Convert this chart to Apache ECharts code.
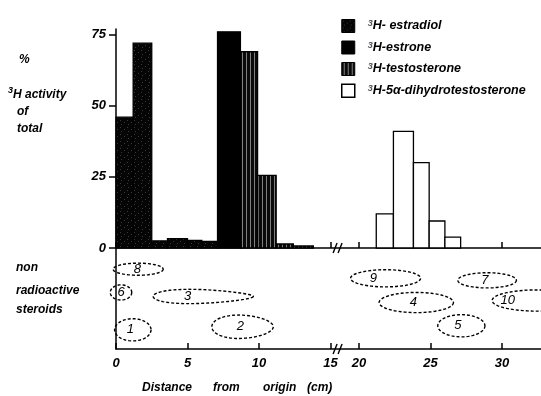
<!DOCTYPE html>
<html>
<head>
<meta charset="utf-8">
<script src="https://cdn.jsdelivr.net/npm/echarts@6/dist/echarts.min.js"></script>
<style>
html, body { margin: 0; padding: 0; background: #fff; }
#main { width: 541px; height: 396px; }
</style>
</head>
<body>
<div id="main"></div>
<script>
// histogram bins: edges in cm from origin, values in % of total 3H activity
var estradiolEdges = [0, 1.2, 2.5, 3.6, 5.0, 6.0, 7.1];
var estradiolValues = [46, 72, 2.5, 3.3, 2.7, 2.3];
var estroneEdges = [7.1, 8.7];
var estroneValues = [76];
var testosteroneEdges = [8.7, 9.9, 11.2, 12.4, 13.8];
var testosteroneValues = [69, 25.5, 1.4, 0.7];
var dhtEdges = [21.2, 22.4, 23.8, 24.9, 26.0, 27.1];
var dhtValues = [12, 41, 30, 9.5, 3.8];

// non radioactive reference spots (cm from origin, lane height 0..10)
var spotNames = ['1', '2', '3', '4', '5', '6', '7', '8', '9', '10'];
var spotFrom = [-0.1, 6.7, 2.6, 21.4, 25.5, -0.4, 26.9, -0.2, 19.4, 29.3];
var spotTo = [2.45, 11.0, 9.6, 26.6, 28.8, 1.1, 31.0, 3.3, 24.3, 35.5];
var spotMid = [1.9, 2.2, 5.2, 4.6, 2.3, 5.6, 6.8, 7.9, 7.0, 4.8];
var spotHalf = [1.1, 1.3, 0.9, 1.0, 1.1, 0.75, 0.75, 0.6, 0.85, 1.05];
var spotLabelAt = [1.0, 8.7, 5.0, 23.8, 26.9, 0.35, 28.8, 1.5, 21.0, 30.4];

var xTicks = [0, 5, 10, 15, 20, 25, 30];
var yTicks = [0, 25, 50, 75];

var legendNames = ['estradiol', 'estrone', 'testosterone', '5α-dihydrotestosterone'];
var legendTexts = ['H- estradiol', 'H-estrone', 'H-testosterone', 'H-5α-dihydrotestosterone'];

// axis break: 15..20 cm is drawn as 2 cm
function toAxis(x) { return x <= 15 ? x : x - 3; }
function fromAxis(u) { return u <= 15.01 ? u : u + 3; }

var FONT = '"Liberation Sans", Arial, sans-serif';

function makePattern(w, h, draw) {
	var c = document.createElement('canvas');
	c.width = w; c.height = h;
	draw(c.getContext('2d'));
	return { image: c, repeat: 'repeat' };
}
var speckle = makePattern(7, 7, function (ctx) {
	ctx.fillStyle = '#050505';
	ctx.fillRect(0, 0, 7, 7);
	ctx.fillStyle = '#3a3a3a';
	ctx.fillRect(1, 1, 1, 1);
	ctx.fillRect(5, 3, 1, 1);
	ctx.fillRect(2, 5, 1, 1);
});
var stripes = makePattern(4, 1, function (ctx) {
	ctx.fillStyle = '#0a0a0a';
	ctx.fillRect(0, 0, 4, 1);
	ctx.fillStyle = '#808080';
	ctx.fillRect(2, 0, 1, 1);
});
var fills = { 'estradiol': speckle, 'estrone': '#000', 'testosterone': stripes, '5α-dihydrotestosterone': '#fff' };

function bins(edges, values) {
	var out = [];
	for (var i = 0; i < values.length; i++) {
		out.push([toAxis(edges[i]), toAxis(edges[i + 1]), values[i]]);
	}
	return out;
}

function renderBin(params, api) {
	var lo = api.coord([api.value(0), 0]);
	var hi = api.coord([api.value(1), api.value(2)]);
	return {
		type: 'rect',
		shape: { x: lo[0], y: hi[1], width: hi[0] - lo[0], height: lo[1] - hi[1] },
		style: { fill: fills[params.seriesName], stroke: '#000', lineWidth: 1.3 }
	};
}

function binSeries(name, edges, values) {
	return {
		type: 'custom', name: name, xAxisIndex: 0, yAxisIndex: 0,
		itemStyle: { color: fills[name] },
		encode: { x: [0, 1], y: 2 },
		renderItem: renderBin,
		data: bins(edges, values)
	};
}

// teardrop spots (3 and 2 narrow to the right)
var spotTaper = { '2': 0.35, '3': 0.75 };

function renderSpot(params, api) {
	var i = params.dataIndex;
	var a = api.coord([api.value(0), api.value(2)]);
	var b = api.coord([api.value(1), api.value(2) + api.value(3)]);
	var cx = (a[0] + b[0]) / 2, cy = a[1], rx = (b[0] - a[0]) / 2, ry = a[1] - b[1];
	var taper = spotTaper[spotNames[i]] || 0;
	var pts = [];
	for (var k = 0; k < 60; k++) {
		var t = k / 60 * 2 * Math.PI;
		var c = Math.cos(t);
		pts.push([cx + rx * c, cy + ry * Math.sin(t) * (1 - taper * 0.33 * (1 + c))]);
	}
	var lab = api.coord([api.value(4), api.value(2)]);
	return {
		type: 'group',
		children: [{
			type: 'polygon',
			shape: { points: pts },
			style: { fill: 'none', stroke: '#000', lineWidth: 1.4, lineDash: [3, 2] }
		}, {
			type: 'text',
			x: lab[0], y: lab[1],
			style: {
				text: spotNames[i], fill: '#000', align: 'center', verticalAlign: 'middle',
				fontSize: 13, fontStyle: 'italic', fontFamily: FONT
			}
		}]
	};
}

var spotData = spotNames.map(function (n, i) {
	return [toAxis(spotFrom[i]), toAxis(spotTo[i]), spotMid[i], spotHalf[i], toAxis(spotLabelAt[i])];
});

var xTickAxis = xTicks.map(toAxis);
var axisLineStyle = { color: '#000', width: 1.5 };
var boldItalic = { color: '#000', fontStyle: 'italic', fontWeight: 'bold', fontFamily: FONT, fontSize: 13 };

function label(text, left, top) {
	return {
		type: 'text', left: left, top: top,
		style: { text: text, fill: '#000', fontSize: 12, fontStyle: 'italic', fontWeight: 'bold', fontFamily: FONT }
	};
}

var myChart = echarts.init(document.getElementById('main'));

var option = {
	animation: false,
	grid: [
		{ left: 116, right: 0, top: 29, height: 219 },
		{ left: 116, right: 0, top: 248, height: 101 }
	],
	legend: {
		orient: 'vertical', left: 336, top: 14,
		icon: 'rect', itemWidth: 13, itemHeight: 13, itemGap: 7.5,
		selectedMode: false,
		data: [
			{ name: 'estradiol', itemStyle: { color: speckle, borderColor: '#000', borderWidth: 1 } },
			{ name: 'estrone', itemStyle: { color: '#000', borderColor: '#000', borderWidth: 1 } },
			{ name: 'testosterone', itemStyle: { color: stripes, borderColor: '#000', borderWidth: 1 } },
			{ name: '5α-dihydrotestosterone', itemStyle: { color: '#fff', borderColor: '#000', borderWidth: 1.5 } }
		],
		formatter: function (name) {
			return '{s|3}{t|' + legendTexts[legendNames.indexOf(name)] + '}';
		},
		textStyle: {
			rich: {
				s: { fontSize: 9, fontWeight: 'bold', fontStyle: 'italic', fontFamily: FONT, verticalAlign: 'top', lineHeight: 9, padding: [0, 0, 0, 8] },
				t: { fontSize: 12.5, fontWeight: 'bold', fontStyle: 'italic', fontFamily: FONT, lineHeight: 13, verticalAlign: 'bottom', color: '#000' }
			}
		}
	},
	xAxis: [{
		gridIndex: 0, type: 'value', min: 0, max: 29.72,
		axisLine: { lineStyle: axisLineStyle },
		axisTick: { inside: true, length: 6, customValues: xTickAxis, lineStyle: axisLineStyle },
		axisLabel: { show: false },
		splitLine: { show: false }
	}, {
		gridIndex: 1, type: 'value', min: 0, max: 29.72,
		axisLine: { lineStyle: axisLineStyle },
		axisTick: { inside: true, length: 6, customValues: xTickAxis, lineStyle: axisLineStyle },
		axisLabel: Object.assign({
			customValues: xTickAxis, margin: 8,
			formatter: function (v) { return String(Math.round(fromAxis(v))); }
		}, boldItalic),
		splitLine: { show: false }
	}],
	yAxis: [{
		gridIndex: 0, type: 'value', min: 0, max: 77,
		axisLine: { show: true, lineStyle: axisLineStyle },
		axisTick: { show: true, length: 7, customValues: yTicks, lineStyle: axisLineStyle },
		axisLabel: Object.assign({ customValues: yTicks, margin: 10 }, boldItalic),
		splitLine: { show: false }
	}, {
		gridIndex: 1, type: 'value', min: 0, max: 10,
		axisLine: { show: true, lineStyle: axisLineStyle },
		axisTick: { show: false },
		axisLabel: { show: false },
		splitLine: { show: false }
	}],
	series: [
		binSeries('estradiol', estradiolEdges, estradiolValues),
		binSeries('estrone', estroneEdges, estroneValues),
		binSeries('testosterone', testosteroneEdges, testosteroneValues),
		binSeries('5α-dihydrotestosterone', dhtEdges, dhtValues),
		{
			type: 'custom', name: 'spots', xAxisIndex: 1, yAxisIndex: 1,
			encode: { x: [0, 1], y: 2 },
			renderItem: renderSpot,
			data: spotData
		}
	]
};

myChart.setOption(option);

// "//" break marks on both x axes
function breakMark(p) {
	var x = p[0], y = p[1];
	return {
		type: 'group', z: 100,
		children: [
			{ type: 'rect', shape: { x: x - 6, y: y - 2, width: 12, height: 4 }, style: { fill: '#fff' } },
			{ type: 'line', shape: { x1: x - 6, y1: y + 5, x2: x - 2, y2: y - 5 }, style: { stroke: '#000', lineWidth: 1.4 } },
			{ type: 'line', shape: { x1: x - 1, y1: y + 5, x2: x + 3, y2: y - 5 }, style: { stroke: '#000', lineWidth: 1.4 } }
		]
	};
}

var texts = [
	label('%', 19, 54),
	{
		type: 'text', left: 8, top: 86,
		style: {
			text: '{s|3}{t|H activity}',
			rich: {
				s: { fontSize: 9, fontWeight: 'bold', fontStyle: 'italic', fontFamily: FONT, verticalAlign: 'top', lineHeight: 11 },
				t: { fontSize: 12, fontWeight: 'bold', fontStyle: 'italic', fontFamily: FONT, lineHeight: 15, verticalAlign: 'bottom', fill: '#000' }
			}
		}
	},
	label('of', 17, 106),
	label('total', 17, 123),
	label('non', 16, 262),
	label('radioactive', 16, 285),
	label('steroids', 16, 304),
	label('Distance', 142, 382),
	label('from', 213, 382),
	label('origin', 263, 382),
	label('(cm)', 307, 382)
];

myChart.setOption({
	graphic: texts.concat([
		breakMark(myChart.convertToPixel({ xAxisIndex: 0, yAxisIndex: 0 }, [15.6, 0])),
		breakMark(myChart.convertToPixel({ xAxisIndex: 1, yAxisIndex: 1 }, [15.6, 0]))
	])
});
</script>
</body>
</html>
